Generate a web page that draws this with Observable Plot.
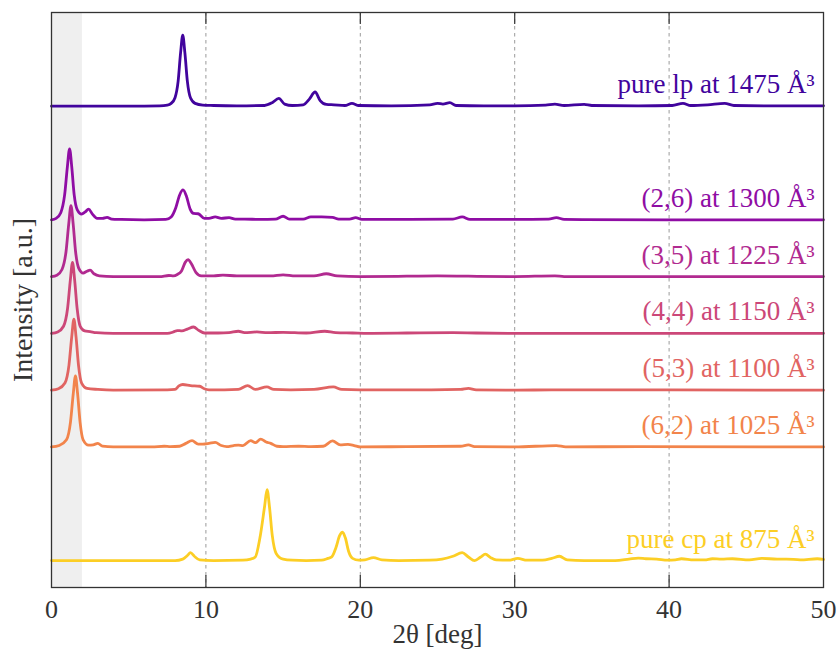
<!DOCTYPE html>
<html>
<head>
<meta charset="utf-8">
<script src="https://cdn.jsdelivr.net/npm/d3@7"></script>
<script src="https://cdn.jsdelivr.net/npm/@observablehq/plot@0.6"></script>
<style>
  html, body { margin: 0; padding: 0; background: #fff; }
</style>
</head>
<body>
<div id="chart"></div>
<script>
// Powder X-ray diffraction patterns, normalised to the strongest reflection.
// Each pattern is a list of [2θ in degrees, relative intensity].

const lpPattern = [
  [0,0],[5,0],[7,0.005],[7.5,0.015],[7.75,0.04],[8.0,0.12],[8.2,0.35],[8.36,0.75],[8.5,1.0],[8.64,0.75],[8.8,0.35],[9.0,0.12],[9.3,0.04],[9.8,0.015],[10.5,0.01],[12,0.005],
  [13.8,0.01],[14.3,0.05],[14.72,0.11],[15.1,0.03],[15.6,0.01],[16.3,0.02],[16.7,0.1],[17.07,0.2],[17.4,0.08],[17.8,0.025],[18.3,0.02],[19.0,0.01],[19.46,0.04],[19.9,0.01],
  [22,0.005],[24.5,0.02],[25.0,0.04],[25.35,0.03],[25.8,0.05],[26.2,0.01],[28,0.005],[30,0.005],[32,0.015],[32.6,0.03],[33.2,0.01],[34.5,0.025],[35,0.01],
  [38,0.005],[40.2,0.01],[40.9,0.04],[41.4,0.01],[42.5,0.02],[43.6,0.04],[44.2,0.01],[47,0.005],[50,0.005]
];

const mix26Pattern = [
  [0,0],[0.3,0.02],[0.6,0.1],[0.85,0.35],[1.03,0.75],[1.17,1.0],[1.31,0.75],[1.47,0.35],[1.67,0.14],[1.95,0.08],[2.18,0.11],[2.4,0.15],[2.65,0.08],[2.95,0.02],[3.3,0.02],[3.6,0.035],[3.9,0.01],
  [4.5,0.005],[6,0],[7.4,0.005],[7.75,0.04],[8.05,0.17],[8.3,0.35],[8.52,0.42],[8.74,0.33],[8.98,0.15],[9.2,0.09],[9.5,0.085],[9.9,0.02],[10.2,0.02],[10.6,0.04],[11.0,0.02],[11.5,0.03],[11.9,0.01],
  [12.5,0.01],[13.5,0.005],[14.5,0.01],[15.0,0.05],[15.4,0.01],[16.3,0.01],[16.8,0.04],[17.5,0.04],[18.2,0.035],[18.6,0.01],[19.3,0.01],[19.7,0.03],[20.1,0.005],
  [22,0.005],[26,0.01],[26.6,0.04],[27.1,0.005],[30,0.005],[32.2,0.01],[32.7,0.03],[33.2,0.005],[40,0],[50,0]
];

const mix35Pattern = [
  [0,0],[0.35,0.02],[0.68,0.1],[0.94,0.35],[1.12,0.75],[1.26,1.0],[1.4,0.75],[1.56,0.35],[1.76,0.12],[2.05,0.05],[2.3,0.075],[2.5,0.09],[2.75,0.04],[3.1,0.01],[4,0],
  [7.0,0],[7.6,0.015],[7.9,0.01],[8.15,0.03],[8.42,0.08],[8.66,0.2],[8.85,0.24],[9.06,0.18],[9.35,0.06],[9.7,0.01],[10.5,0.01],[11.1,0.02],[12,0.01],[13,0.01],
  [14.2,0.01],[15,0.025],[15.8,0.01],[17,0.01],[17.8,0.04],[18.5,0.01],[20,0],[23,0.005],[25,0.01],[27,0.005],[30,0],[32.6,0.01],[33.2,0],[50,0]
];

const mix44Pattern = [
  [0,0],[0.4,0.02],[0.78,0.1],[1.04,0.35],[1.22,0.75],[1.36,1.0],[1.5,0.75],[1.66,0.35],[1.86,0.1],[2.15,0.035],[2.5,0.025],[2.9,0.01],[4,0],
  [7.5,0],[7.9,0.02],[8.15,0.04],[8.45,0.035],[8.8,0.06],[9.2,0.09],[9.55,0.04],[9.9,0.005],[10.8,0.005],[11.5,0.01],[12.1,0.03],[12.5,0.01],[13.3,0.02],[14,0.01],
  [15,0.015],[16.5,0.005],[17.7,0.03],[18.4,0.01],[19.5,0.005],[20.5,0],[23,0.005],[26,0.01],[27.5,0.005],[30,0],[50,0]
];

const mix53Pattern = [
  [0,0],[0.45,0.02],[0.87,0.1],[1.13,0.35],[1.31,0.75],[1.45,1.0],[1.59,0.75],[1.75,0.35],[1.95,0.1],[2.3,0.025],[3,0.01],[4,0],
  [7.5,0.005],[8.0,0.01],[8.25,0.06],[8.5,0.08],[9.0,0.065],[9.6,0.055],[9.9,0.02],[10.2,0.005],[11.2,0.005],[12.1,0.01],[12.7,0.065],[13.2,0.01],[13.95,0.045],[14.4,0.01],
  [15.5,0.005],[17,0.01],[18.25,0.045],[18.8,0.01],[20,0.005],[24,0.005],[26.5,0.01],[27,0.025],[27.5,0.005],[30,0],[32.5,0.005],[50,0]
];

const mix62Pattern = [
  [0,0],[0.5,0.02],[0.97,0.1],[1.23,0.35],[1.41,0.75],[1.55,1.0],[1.69,0.75],[1.85,0.35],[2.05,0.1],[2.4,0.025],[2.7,0.03],[3.0,0.05],[3.3,0.01],[4,0],
  [6.5,0],[7.3,0.01],[7.7,0.005],[8.3,0.01],[8.7,0.05],[9.1,0.09],[9.5,0.04],[9.8,0.04],[10.2,0.05],[10.6,0.065],[11.0,0.02],[11.35,0.005],[11.8,0.02],[12.1,0.025],[12.4,0.02],
  [12.9,0.09],[13.2,0.06],[13.55,0.11],[13.9,0.07],[14.2,0.05],[14.6,0.01],[15,0.005],[16,0.01],[16.8,0.005],[17.6,0.01],[18.2,0.085],[18.7,0.03],[19.2,0.035],[19.6,0.02],[20,0],
  [23,0.005],[26.5,0.01],[27.0,0.03],[27.4,0.005],[30,0],[32.7,0.02],[33.3,0],[38,0.005],[50,0]
];

const cpPattern = [
  [0,0],[5,0],[8.0,0],[8.5,0.02],[8.8,0.07],[9.0,0.11],[9.25,0.06],[9.6,0.01],[10.5,0],[12.4,0.005],[12.9,0.02],[13.2,0.05],[13.5,0.32],[13.8,0.76],[13.96,1.0],[14.12,0.75],[14.3,0.35],[14.55,0.1],
  [15.0,0.02],[15.6,0.005],[16.5,0],[17.5,0.005],[17.9,0.03],[18.15,0.05],[18.42,0.18],[18.66,0.35],[18.85,0.4],[19.03,0.32],[19.24,0.13],[19.5,0.03],[19.9,0.005],[20.3,0.01],[20.85,0.04],[21.4,0.01],
  [22.5,0],[24.5,0.005],[25.3,0.02],[26.0,0.06],[26.6,0.11],[27.0,0.05],[27.4,0.0],[27.8,0.05],[28.1,0.09],[28.45,0.04],[28.8,0.01],[29.6,0.005],[30.2,0.03],[30.8,0.005],
  [31.8,0.005],[32.4,0.03],[32.9,0.06],[33.4,0.01],[34.5,0],[36.5,0],[37.4,0.02],[38.0,0.035],[38.5,0.025],[39.2,0.02],[39.9,0.005],[40.4,0.01],[40.8,0.025],[41.6,0.01],
  [42.3,0.01],[42.8,0.025],[43.4,0.02],[44.1,0.025],[45.2,0.01],[46.0,0.03],[47.0,0.02],[47.6,0.02],[48.5,0.01],[49.6,0.025],[50,0.015]
];

const seriesLabels = [
  "pure lp at 1475 Å³", "(2,6) at 1300 Å³", "(3,5) at 1225 Å³", "(4,4) at 1150 Å³",
  "(5,3) at 1100 Å³", "(6,2) at 1025 Å³", "pure cp at 875 Å³"
];
const seriesOffsets = [6.4, 4.8, 4.0, 3.2, 2.4, 1.6, 0];
const seriesColors = ["#41049d", "#8f0da4", "#b12a90", "#cc4778", "#e16462", "#f2844b", "#fcce25"];
const patterns = [lpPattern, mix26Pattern, mix35Pattern, mix44Pattern, mix53Pattern, mix62Pattern, cpPattern];

const xTicks = [0, 10, 20, 30, 40, 50];
const gridAt = [10, 20, 30, 40];
const shadedRange = [{from: 0, to: 2}];

const series = seriesLabels.map((label, i) => ({
  label,
  offset: seriesOffsets[i],
  color: seriesColors[i],
  points: patterns[i]
}));

const W = 839, H = 649;
const M = {top: 12, right: 16, bottom: 62, left: 51};
const innerH = H - M.top - M.bottom;
const serif = "'Liberation Serif', 'DejaVu Serif', serif";

const chart = Plot.plot({
  width: W,
  height: H,
  marginTop: M.top,
  marginRight: M.right,
  marginBottom: M.bottom,
  marginLeft: M.left,
  style: {fontFamily: serif, fontSize: "26px", color: "#333", background: "#fff"},
  x: {domain: [0, 50], ticks: xTicks, tickSize: 0, tickPadding: 12, label: null},
  y: {domain: [-0.38, 7.72], axis: null},
  marks: [
    Plot.rect(shadedRange, {x1: "from", x2: "to", fill: "#efefef"}),
    Plot.ruleX(gridAt, {stroke: "#9a9a9a", strokeWidth: 1, strokeDasharray: "3.5,3.5"}),
    Plot.ruleX(gridAt, {stroke: "#333", strokeWidth: 1.2, insetBottom: innerH - 12}),
    Plot.ruleX(gridAt, {stroke: "#333", strokeWidth: 1.2, insetTop: innerH - 12}),
    ...series.map(s => Plot.line(s.points, {
      x: d => d[0],
      y: d => s.offset + d[1],
      stroke: s.color,
      strokeWidth: 2.8,
      curve: "monotone-x",
      strokeLinejoin: "round"
    })),
    ...series.map(s => Plot.text([s], {
      y: "offset",
      text: "label",
      frameAnchor: "right",
      textAnchor: "end",
      lineAnchor: "bottom",
      dx: -9,
      dy: -13,
      fill: s.color,
      fontSize: 27
    })),
    Plot.frame({stroke: "#333", strokeWidth: 1.3}),
    Plot.text(["2θ [deg]"], {frameAnchor: "bottom", textAnchor: "middle", lineAnchor: "bottom", dy: 55, fill: "#333", fontSize: 27}),
    Plot.text(["Intensity [a.u.]"], {frameAnchor: "left", textAnchor: "middle", rotate: -90, lineAnchor: "bottom", dx: -20, fill: "#333", fontSize: 28})
  ]
});

document.getElementById("chart").appendChild(chart);
</script>
</body>
</html>
